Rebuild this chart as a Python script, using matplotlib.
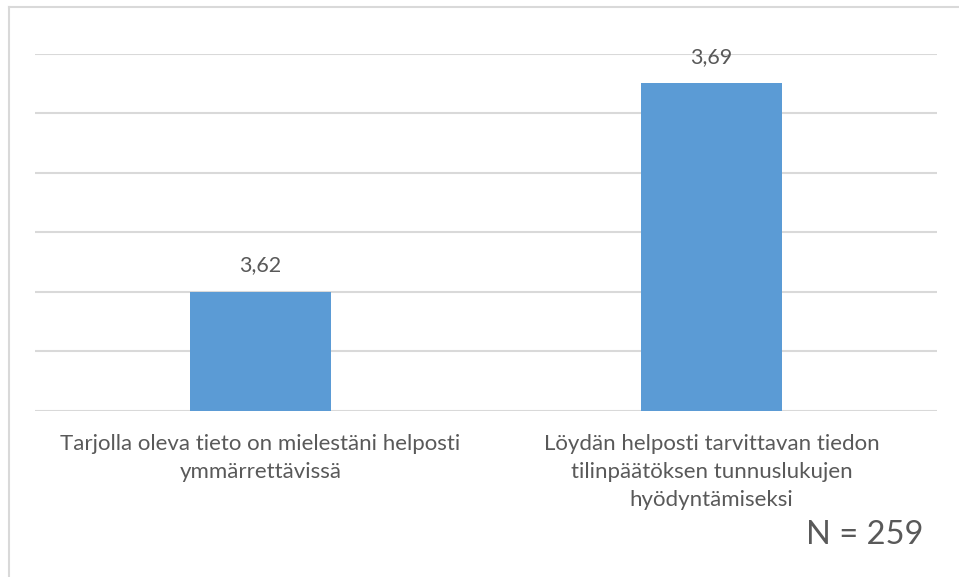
import matplotlib
matplotlib.use("Agg")
import matplotlib.pyplot as plt
from matplotlib.lines import Line2D
from matplotlib.transforms import blended_transform_factory

categories = [
    "Tarjolla oleva tieto on mielestäni helposti\nymmärrettävissä",
    "Löydän helposti tarvittavan tiedon\ntilinpäätöksen tunnuslukujen\nhyödyntämiseksi",
]
values = [3.62, 3.69]
value_labels = ["3,62", "3,69"]
y_ticks = [3.58, 3.60, 3.62, 3.64, 3.66, 3.68, 3.70]
note = "N = 259"

BAR = "#5B9BD5"
TEXT = "#595959"
GRID = "#D9D9D9"
FONT = "Lato"

W, H = 959, 577
fig = plt.figure(figsize=(W / 100, H / 100), dpi=100)
fig.patch.set_facecolor("white")

# plot area in pixel geometry
x0, x1 = 35, 937
ytop, ybot = 53.5, 410.5
ax = fig.add_axes([x0 / W, (H - ybot) / H, (x1 - x0) / W, (ybot - ytop) / H])

xs = list(range(len(categories)))
ax.bar(xs, values, width=0.313, color=BAR, zorder=3)
ax.set_xlim(-0.5, len(categories) - 0.5)
ax.set_ylim(y_ticks[0], y_ticks[-1])
ax.set_yticks(y_ticks)
ax.yaxis.grid(True, color=GRID, linewidth=1.5, zorder=0)
ax.set_axisbelow(True)
ax.tick_params(left=False, bottom=False, labelleft=False, labelbottom=False)
for s in ax.spines.values():
    s.set_visible(False)

for x, v, lab in zip(xs, values, value_labels):
    ax.annotate(lab, (x, v), xytext=(0, 26 * 0.72), textcoords="offset points",
                ha="center", va="center", fontsize=15.5, color=TEXT, family=FONT)

trans = blended_transform_factory(ax.transData, ax.transAxes)
for x, cat in zip(xs, categories):
    ax.text(x, -(433.5 - ybot) / (ybot - ytop), cat, transform=trans, ha="center", va="top",
            multialignment="center", fontsize=16, color=TEXT, family=FONT,
            linespacing=1.5)

fig.text(865 / W, 1 - 535 / H, note, ha="center", va="center", fontsize=23.5,
         color=TEXT, family=FONT)

# chart-area frame (top and left edges)
fig.add_artist(Line2D([8.5 / W, 1.0], [1 - 6.5 / H, 1 - 6.5 / H],
                      transform=fig.transFigure, color=GRID, linewidth=1.5))
fig.add_artist(Line2D([8.5 / W, 8.5 / W], [0, 1 - 6.5 / H],
                      transform=fig.transFigure, color=GRID, linewidth=1.5))

fig.savefig("out.png", dpi=100, facecolor="white")
